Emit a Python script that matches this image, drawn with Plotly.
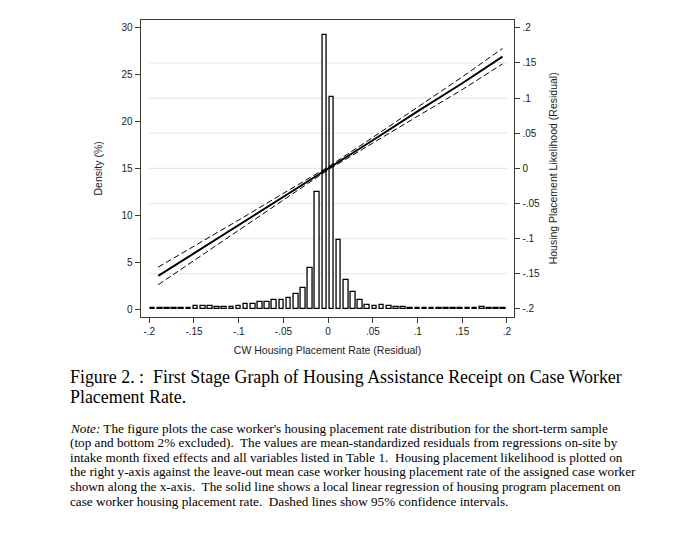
import plotly.graph_objects as go

# Histogram of case worker housing placement rate (residual), density in %
bin_centers = [
    -0.196, -0.188, -0.180, -0.172, -0.164, -0.156, -0.148, -0.140, -0.132, -0.124,
    -0.116, -0.108, -0.100, -0.092, -0.084, -0.076, -0.068, -0.060, -0.052, -0.044,
    -0.036, -0.028, -0.020, -0.012, -0.004, 0.004, 0.012, 0.020, 0.028, 0.036,
    0.044, 0.052, 0.060, 0.068, 0.076, 0.084, 0.092, 0.100, 0.108, 0.116,
    0.124, 0.132, 0.140, 0.148, 0.156, 0.164, 0.172, 0.180, 0.188, 0.196,
]
density_pct = [
    0.10, 0.10, 0.10, 0.10, 0.10, 0.15, 0.35, 0.35, 0.35, 0.20,
    0.20, 0.20, 0.35, 0.50, 0.55, 0.70, 0.70, 0.95, 1.00, 1.20,
    1.55, 2.20, 4.40, 12.45, 29.25, 22.65, 7.40, 3.05, 1.80, 1.00,
    0.40, 0.35, 0.45, 0.35, 0.25, 0.20, 0.10, 0.10, 0.10, 0.10,
    0.10, 0.10, 0.10, 0.10, 0.10, 0.15, 0.20, 0.15, 0.10, 0.10,
]

# Local linear fit of housing placement on CW rate, with 95% CI (right axis)
fit_x = [-0.19, -0.15, -0.10, -0.05, 0.0, 0.05, 0.10, 0.15, 0.195]
fit_y = [-0.153, -0.121, -0.081, -0.040, 0.000, 0.040, 0.081, 0.121, 0.159]
ci_upper = [-0.1405, -0.111, -0.0735, -0.0355, 0.002, 0.044, 0.0875, 0.130, 0.1705]
ci_lower = [-0.1655, -0.131, -0.0885, -0.0445, -0.002, 0.036, 0.0745, 0.112, 0.1485]

x_ticks = [-0.2, -0.15, -0.1, -0.05, 0, 0.05, 0.1, 0.15, 0.2]
x_ticklabels = ["-.2", "-.15", "-.1", "-.05", "0", ".05", ".1", ".15", ".2"]
y_ticks = [0, 5, 10, 15, 20, 25, 30]
y2_ticks = [-0.2, -0.15, -0.1, -0.05, 0, 0.05, 0.1, 0.15, 0.2]
y2_ticklabels = ["-.2", "-.15", "-.1", "-.05", "0", ".05", ".1", ".15", ".2"]

caption_lines = [
    "Figure 2. :  First Stage Graph of Housing Assistance Receipt on Case Worker",
    "Placement Rate.",
]
note_lines = [
    "<i>Note:</i> The figure plots the case worker's housing placement rate distribution for the short-term sample",
    "(top and bottom 2% excluded).  The values are mean-standardized residuals from regressions on-site by",
    "intake month fixed effects and all variables listed in Table 1.  Housing placement likelihood is plotted on",
    "the right y-axis against the leave-out mean case worker housing placement rate of the assigned case worker",
    "shown along the x-axis.  The solid line shows a local linear regression of housing program placement on",
    "case worker housing placement rate.  Dashed lines show 95% confidence intervals.",
]

# the page body has an 8px margin, so work in window pixels and shift by it
OFF = 8
W, H = 680 - OFF, 533 - OFF


def px_x(p):
    return (p - OFF) / W


def px_y(p):
    return 1 - (p - OFF) / H


AXIS_COLOR = "#3a3a3a"
CHART_FONT = "Liberation Sans, Arial, sans-serif"
SERIF = "Liberation Serif, Times New Roman, serif"

fig = go.Figure()

fig.add_trace(go.Bar(
    x=bin_centers, y=density_pct, width=0.0052,
    marker=dict(color="white", line=dict(color="black", width=1.3)),
    yaxis="y", showlegend=False, hoverinfo="x+y",
))

for ys, dash, lw in [(ci_upper, "6px,3px", 1), (ci_lower, "6px,3px", 1), (fit_y, "solid", 2)]:
    fig.add_trace(go.Scatter(
        x=fit_x, y=ys, mode="lines", yaxis="y2",
        line=dict(color="black", width=lw, dash=dash), showlegend=False,
    ))

# light grid lines following the right axis, spanning the x tick range only
for v in y2_ticks[1:-1]:
    fig.add_shape(type="line", xref="x", yref="y2", x0=x_ticks[0], x1=x_ticks[-1], y0=v, y1=v,
                  line=dict(color="#e8e8e8", width=1.2), layer="below")

axis_common = dict(
    showline=True, linecolor=AXIS_COLOR, linewidth=1.3,
    ticks="outside", ticklen=5, tickwidth=1.1, tickcolor=AXIS_COLOR,
    showgrid=False, zeroline=False,
    tickfont=dict(family=CHART_FONT, size=10, color="#222"),
)

fig.update_layout(
    width=W, height=H,
    margin=dict(l=0, r=0, t=0, b=0),
    paper_bgcolor="white", plot_bgcolor="white",
    bargap=0,
    xaxis=dict(
        domain=[px_x(140.7), px_x(514.3)], range=[-0.2096, 0.2082],
        tickvals=x_ticks, ticktext=x_ticklabels, mirror=True,
        title=dict(text="CW Housing Placement Rate (Residual)", standoff=10,
                   font=dict(family=CHART_FONT, size=10.5, color="#222")),
        **axis_common,
    ),
    yaxis=dict(
        domain=[px_y(316.7), px_y(20)], range=[-0.82, 30.82],
        tickvals=y_ticks, ticktext=[str(v) for v in y_ticks],
        title=dict(text="Density (%)", standoff=16,
                   font=dict(family=CHART_FONT, size=10.5, color="#222")),
        **axis_common,
    ),
    yaxis2=dict(
        overlaying="y", side="right", anchor="x", range=[-0.211, 0.211],
        tickvals=y2_ticks, ticktext=y2_ticklabels,
        title=dict(text="Housing Placement Likelihood (Residual)", standoff=10,
                   font=dict(family=CHART_FONT, size=10.5, color="#222")),
        **axis_common,
    ),
)

annotations = []
for i, line in enumerate(caption_lines):
    annotations.append(dict(
        xref="paper", yref="paper", x=px_x(68), y=px_y(376.7 + 20.6 * i),
        xanchor="left", yanchor="middle", showarrow=False, align="left",
        text=line, font=dict(family=SERIF, size=17.9, color="black"),
    ))
for i, line in enumerate(note_lines):
    annotations.append(dict(
        xref="paper", yref="paper", x=px_x(68), y=px_y(428.3 + 14.55 * i),
        xanchor="left", yanchor="middle", showarrow=False, align="left",
        text=line, font=dict(family=SERIF, size=13.2, color="black"),
    ))
fig.update_layout(annotations=annotations)

fig.write_html("out.html")
